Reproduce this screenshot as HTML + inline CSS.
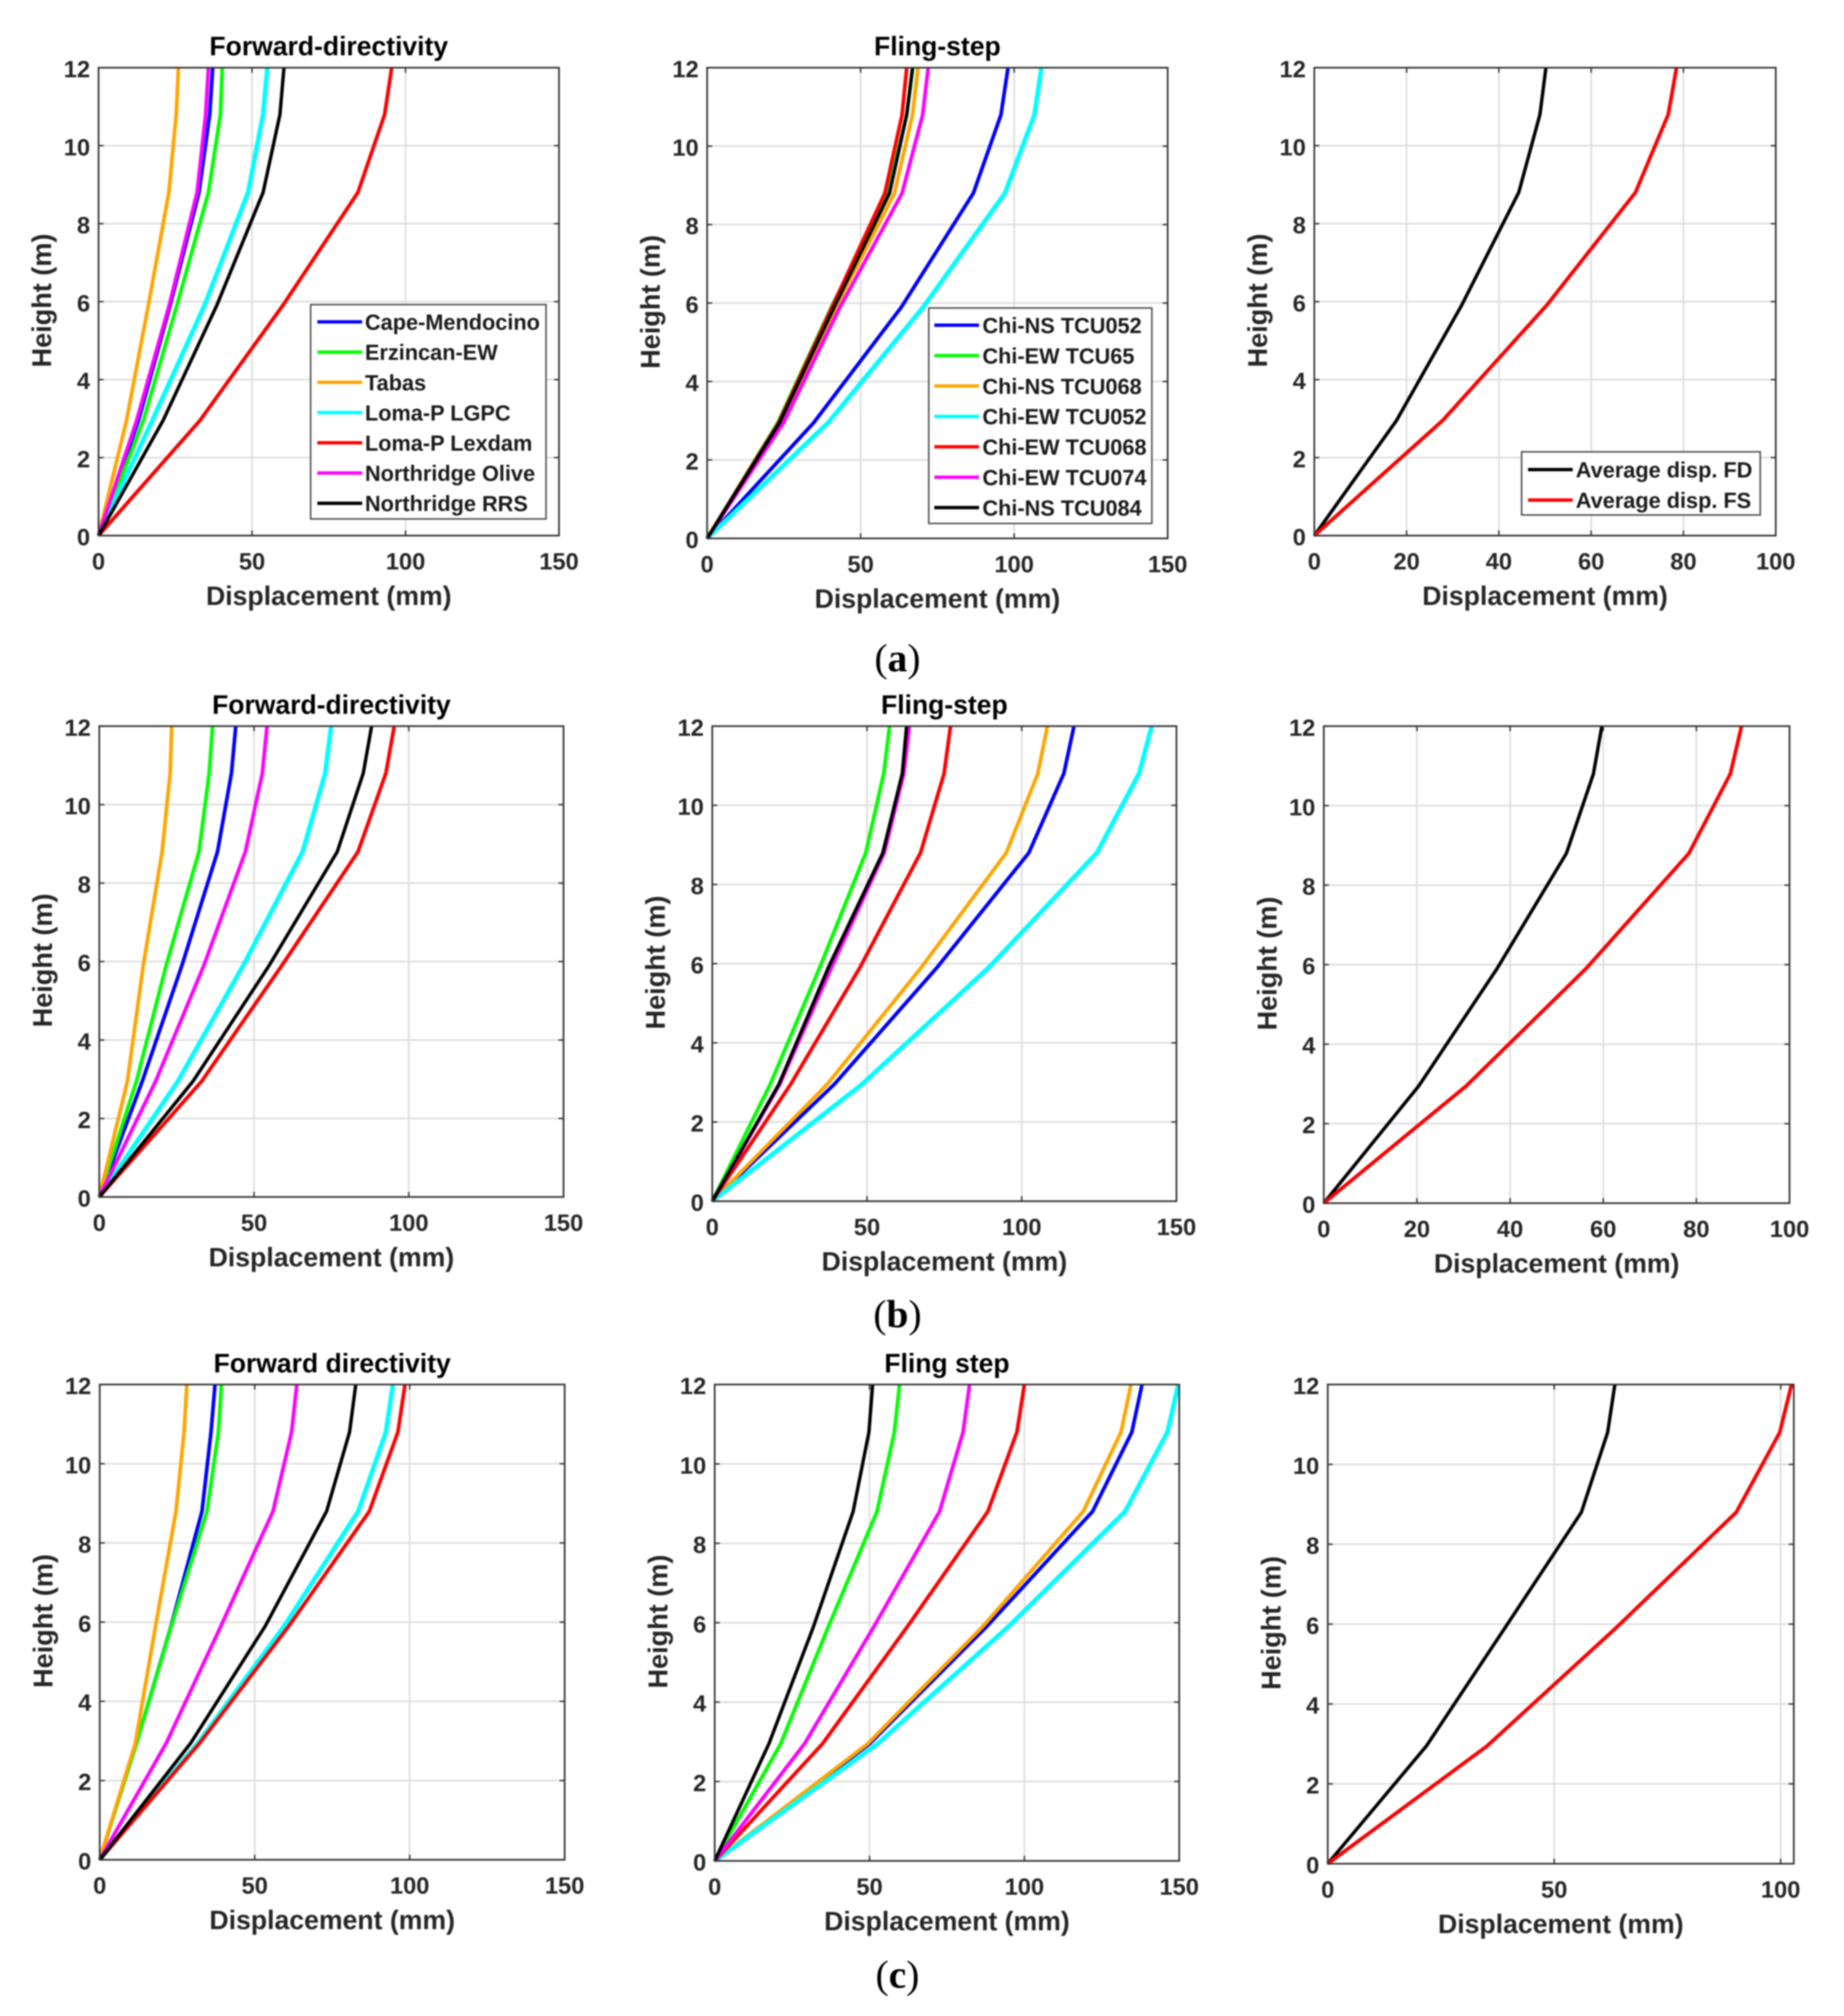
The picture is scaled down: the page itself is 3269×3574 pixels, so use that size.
<!DOCTYPE html>
<html lang="en">
<head>
<meta charset="utf-8">
<title>Displacement versus height profiles</title>
<style>
  html, body { margin: 0; padding: 0; background: #ffffff; }
  #figure { display: block; width: 3269px; height: 3574px; filter: blur(1.3px); }
  text { font-family: "Liberation Sans", Arial, sans-serif; font-weight: bold; }
  .caption { font-family: "Liberation Serif", "Times New Roman", serif; font-size: 70px; fill: #000; font-weight: normal; }
  .caption .letter { font-weight: bold; }
</style>
</head>
<body>
<svg id="figure" xmlns="http://www.w3.org/2000/svg" width="3269" height="3574" viewBox="0 0 3269 3574">
  <rect x="0" y="0" width="3269" height="3574" fill="#ffffff"></rect>
  <text class="caption" x="1591" y="1190" text-anchor="middle">(<tspan class="letter">a</tspan>)</text>
  <text class="caption" x="1591" y="2353" text-anchor="middle">(<tspan class="letter">b</tspan>)</text>
  <text class="caption" x="1591" y="3524" text-anchor="middle">(<tspan class="letter">c</tspan>)</text>
</svg>
<script>
// ---- Data ----
const heights = [0, 2.95, 5.9, 8.8, 10.8, 12];
const yTicks = [0, 2, 4, 6, 8, 10, 12];
const xTicks150 = [0, 50, 100, 150];
const xTicks100 = [0, 20, 40, 60, 80, 100];
const xTicks50 = [0, 50, 100];

const namesFD = ['Cape-Mendocino', 'Erzincan-EW', 'Tabas', 'Loma-P LGPC', 'Loma-P Lexdam', 'Northridge Olive', 'Northridge RRS'];
const namesFS = ['Chi-NS TCU052', 'Chi-EW TCU65', 'Chi-NS TCU068', 'Chi-EW TCU052', 'Chi-EW TCU068', 'Chi-EW TCU074', 'Chi-NS TCU084'];
const namesAvg = ['Average disp. FD', 'Average disp. FS'];

const coloursSeven = ['#0000ff', '#00ff00', '#ffa500', '#00ffff', '#ff0000', '#ff00ff', '#000000'];
const coloursAvg = ['#000000', '#ff0000'];

const a1Values = [
  [0, 13, 23.3, 32.7, 36.2, 37.2],
  [0, 14.6, 25.5, 35.8, 39.7, 40.3],
  [0, 9.1, 16.2, 22.9, 25.3, 26],
  [0, 17.5, 34.5, 48.7, 53.6, 55],
  [0, 33, 60, 84.5, 93.2, 95.5],
  [0, 12.4, 23, 32.1, 34.9, 35.8],
  [0, 21, 38.5, 53.6, 59.1, 60.4]
];
const a2Values = [
  [0, 34.7, 63.3, 86.7, 95.7, 98],
  [0, 23, 40.5, 59, 65, 67],
  [0, 23.7, 42, 61, 66.9, 68.7],
  [0, 39.4, 70.4, 97, 106.6, 108.9],
  [0, 23.3, 40.7, 57.9, 63.5, 65],
  [0, 24.9, 43.3, 63.5, 70.2, 72],
  [0, 23.6, 41.4, 59.4, 65, 66.9]
];
const a3Values = [
  [0, 17.8, 31.9, 44.3, 48.9, 50.2],
  [0, 27.8, 50.3, 69.6, 76.7, 78.5]
];
const b1Values = [
  [0, 13.9, 26.7, 38.2, 42.7, 44.1],
  [0, 12, 21.6, 32.2, 35.5, 36.6],
  [0, 9.1, 14.2, 20.3, 22.9, 23.4],
  [0, 25.4, 46.5, 65.7, 73, 74.9],
  [0, 33.1, 59, 83.6, 92.6, 95.3],
  [0, 18.2, 33.8, 47.2, 52.7, 54.2],
  [0, 30.3, 54.9, 76.9, 85.3, 88]
];
const b2Values = [
  [0, 39.4, 72.6, 102.3, 113.6, 116.9],
  [0, 18.7, 34.7, 49.6, 55.4, 57.3],
  [0, 37.1, 67.5, 95, 105.2, 108.3],
  [0, 48.3, 89.3, 124.3, 137.9, 142],
  [0, 25.3, 47.7, 67.3, 74.9, 77],
  [0, 21.8, 38.5, 55.6, 61.9, 63.7],
  [0, 21.5, 37.5, 55.1, 61.4, 62.8]
];
const b3Values = [
  [0, 20.4, 37.2, 52.1, 57.9, 59.7],
  [0, 30.6, 56.3, 78.4, 87.3, 89.7]
];
const c1Values = [
  [0, 11.9, 23, 33, 35.9, 37.2],
  [0, 11.9, 23.1, 34.6, 38.3, 39.3],
  [0, 11.5, 18, 24.6, 27.2, 28.1],
  [0, 31.7, 59.5, 83.4, 92.3, 94.6],
  [0, 32.3, 61, 87, 96.2, 98.5],
  [0, 21.5, 39.1, 55.9, 61.9, 63.6],
  [0, 29.4, 53.4, 73.2, 80.6, 82.6]
];
const c2Values = [
  [0, 50, 87.8, 122, 134.7, 138],
  [0, 21.3, 36.7, 52.4, 58, 59.7],
  [0, 49.4, 86.5, 119, 131.2, 134.4],
  [0, 52.6, 94.8, 132.5, 146.2, 149.7],
  [0, 34.8, 62.2, 88.2, 97.6, 100],
  [0, 29, 51.4, 72.6, 80.2, 82.3],
  [0, 17.5, 31.9, 44.7, 49.8, 51]
];
const c3Values = [
  [0, 21.8, 39.1, 56, 61.8, 63.4],
  [0, 35.2, 63.6, 90.2, 99.8, 102.4]
];

// ---- Layout ----
const panelList = [
  { id: 'a1', title: 'Forward-directivity', values: a1Values, colours: coloursSeven, xTicks: xTicks150, xMax: 150, left: 174.7, right: 991, top: 120, bottom: 949.5, titleY: 98,
    legend: { names: namesFD, box: [550.7, 540, 417.3, 380], lineX: [562.6, 642], textX: 647, firstY: 570.6, step: 53.6 } },
  { id: 'a2', title: 'Fling-step', values: a2Values, colours: coloursSeven, xTicks: xTicks150, xMax: 150, left: 1253.6, right: 2070, top: 120, bottom: 954.5, titleY: 98,
    legend: { names: namesFS, box: [1646.5, 546, 395.5, 382], lineX: [1656.3, 1735.6], textX: 1741.6, firstY: 576.5, step: 53.9 } },
  { id: 'a3', title: '', values: a3Values, colours: coloursAvg, xTicks: xTicks100, xMax: 100, left: 2330, right: 3148, top: 120, bottom: 949.5, titleY: 98,
    legend: { names: namesAvg, box: [2697.5, 801, 423, 112], lineX: [2708.8, 2788], textX: 2793.5, firstY: 832.5, step: 54 } },
  { id: 'b1', title: 'Forward-directivity', values: b1Values, colours: coloursSeven, xTicks: xTicks150, xMax: 150, left: 176, right: 999, top: 1287.3, bottom: 2122, titleY: 1265.7 },
  { id: 'b2', title: 'Fling-step', values: b2Values, colours: coloursSeven, xTicks: xTicks150, xMax: 150, left: 1262.7, right: 2085.6, top: 1287.3, bottom: 2129.5, titleY: 1265.7 },
  { id: 'b3', title: '', values: b3Values, colours: coloursAvg, xTicks: xTicks100, xMax: 100, left: 2346.8, right: 3172.4, top: 1287.3, bottom: 2133, titleY: 1265.7 },
  { id: 'c1', title: 'Forward directivity', values: c1Values, colours: coloursSeven, xTicks: xTicks150, xMax: 150, left: 176.8, right: 1001, top: 2454.5, bottom: 3297, titleY: 2433 },
  { id: 'c2', title: 'Fling step', values: c2Values, colours: coloursSeven, xTicks: xTicks150, xMax: 150, left: 1267, right: 2090.5, top: 2454.5, bottom: 3299, titleY: 2433 },
  { id: 'c3', title: '', values: c3Values, colours: coloursAvg, xTicks: xTicks50, xMax: 102.9, left: 2353.8, right: 3180, top: 2454.5, bottom: 3304, titleY: 2433 }
];

const SVG_NS = 'http://www.w3.org/2000/svg';
const svgRoot = document.getElementById('figure');

function make(tag, parent, attrs, content) {
  const node = document.createElementNS(SVG_NS, tag);
  for (const key of Object.keys(attrs)) {
    node.setAttribute(key, attrs[key]);
  }
  if (content !== undefined) {
    node.textContent = content;
  }
  parent.appendChild(node);
  return node;
}

function drawPanel(p) {
  const scaleX = function (v) { return p.left + (v / p.xMax) * (p.right - p.left); };
  const scaleY = function (v) { return p.bottom - (v / 12) * (p.bottom - p.top); };

  const group = make('g', svgRoot, {});
  
  

  make('rect', group, { x: p.left, y: p.top, width: p.right - p.left, height: p.bottom - p.top, fill: '#ffffff' });

  // gridlines and ticks
  for (const t of p.xTicks) {
    const x = scaleX(t);
    if (t !== 0 && t !== p.xMax) {
      const grid = make('line', group, { x1: x, x2: x, y1: p.top, y2: p.bottom, stroke: '#dedede', 'stroke-width': 3 });
      
      
    }
    const tickB = make('line', group, { x1: x, x2: x, y1: p.bottom, y2: p.bottom - 9, stroke: '#333333', 'stroke-width': 2.5 });
    
    
    const tickT = make('line', group, { x1: x, x2: x, y1: p.top, y2: p.top + 9, stroke: '#333333', 'stroke-width': 2.5 });
    
    
    const label = make('text', group, { x: x, y: p.bottom + 60, 'text-anchor': 'middle', 'font-size': 42, fill: '#262626' }, String(t));
    
    
  }
  for (const t of yTicks) {
    const y = scaleY(t);
    if (t !== 0 && t !== 12) {
      const grid = make('line', group, { x1: p.left, x2: p.right, y1: y, y2: y, stroke: '#dedede', 'stroke-width': 3 });
      
      
    }
    const tickL = make('line', group, { x1: p.left, x2: p.left + 9, y1: y, y2: y, stroke: '#333333', 'stroke-width': 2.5 });
    
    
    const tickR = make('line', group, { x1: p.right, x2: p.right - 9, y1: y, y2: y, stroke: '#333333', 'stroke-width': 2.5 });
    
    
    const label = make('text', group, { x: p.left - 15, y: y + 17, 'text-anchor': 'end', 'font-size': 42, fill: '#262626' }, String(t));
    
    
  }

  // series
  p.values.forEach(function (series, i) {
    const pts = series.map(function (v, k) { return scaleX(v).toFixed(1) + ',' + scaleY(heights[k]).toFixed(1); }).join(' ');
    const colour = p.colours[i];
    const width = colour === '#00ffff' ? 8 : (colour === '#000000' ? 6 : 6.5);
    const line = make('polyline', group, { points: pts, fill: 'none', stroke: colour, 'stroke-width': width, 'stroke-linejoin': 'round' });
    
    
  });

  // frame
  const frame = make('rect', group, { x: p.left, y: p.top, width: p.right - p.left, height: p.bottom - p.top, fill: 'none', stroke: '#333333', 'stroke-width': 3 });
  
  

  // labels
  const cx = (p.left + p.right) / 2;
  const cy = (p.top + p.bottom) / 2;
  if (p.title) {
    const title = make('text', group, { x: cx, y: p.titleY, 'text-anchor': 'middle', 'font-size': 47, fill: '#000000' }, p.title);
    
    
  }
  const xTitle = make('text', group, { x: cx, y: p.bottom + 123, 'text-anchor': 'middle', 'font-size': 47.2, fill: '#262626' }, 'Displacement (mm)');
  
  
  const yTitle = make('text', group, { x: 0, y: 0, 'text-anchor': 'middle', 'font-size': 48, fill: '#262626', transform: 'translate(' + (p.left - 84) + ',' + (cy - 2) + ') rotate(-90)' }, 'Height (m)');
  
  

  // legend
  if (p.legend) {
    const lg = p.legend;
    const legendGroup = make('g', group, {});
    
    
    make('rect', legendGroup, { x: lg.box[0], y: lg.box[1], width: lg.box[2], height: lg.box[3], fill: '#ffffff', stroke: '#404040', 'stroke-width': 2.5 });
    lg.names.forEach(function (name, i) {
      const y = lg.firstY + i * lg.step;
      const sample = make('line', legendGroup, { x1: lg.lineX[0], x2: lg.lineX[1], y1: y, y2: y, stroke: p.colours[i], 'stroke-width': 6 });
      
      
      const entry = make('text', legendGroup, { x: lg.textX, y: y + 14, 'font-size': 38.5, fill: '#1a1a1a' }, name);
      
      
    });
  }
}

panelList.forEach(drawPanel);
</script>
</body>
</html>
